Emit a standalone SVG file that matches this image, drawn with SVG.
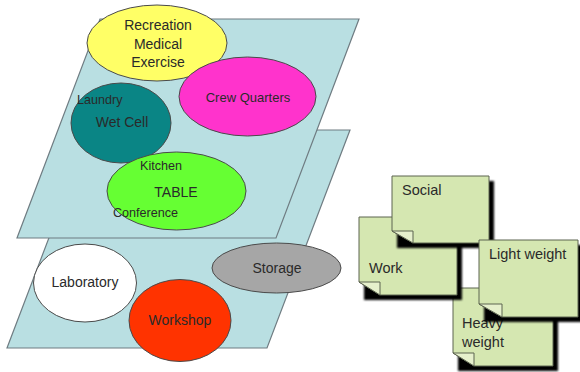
<svg xmlns="http://www.w3.org/2000/svg" width="580" height="372" viewBox="0 0 580 372">
  <defs>
    <filter id="shadowBlur" x="-10%" y="-10%" width="130%" height="130%">
      <feGaussianBlur stdDeviation="1.2"/>
    </filter>
    <style>
      .plane { fill: #b9dfe2; stroke: #6f7c82; stroke-width: 1.2; }
      .zone { stroke: #4a4a4a; stroke-width: 1; }
      .lbl { font-family: "Liberation Sans", Arial, sans-serif; font-size: 14px; fill: #2a2a2a; text-anchor: middle; }
      .sm { font-family: "Liberation Sans", Arial, sans-serif; font-size: 12.6px; fill: #2a2a2a; }
      .note { fill: #d5e7b1; stroke: #5d6450; stroke-width: 1; }
      .flap { fill: #e6f0cc; stroke: #5d6450; stroke-width: 1; }
      .shadow { fill: #000; filter: url(#shadowBlur); }
      .ntext { font-family: "Liberation Sans", Arial, sans-serif; font-size: 14.5px; fill: #2a2a2a; }
    </style>
  </defs>

  <rect width="580" height="372" fill="#ffffff"/>

  <!-- lower deck -->
  <g id="deck-lower">
    <polygon class="plane" points="90,130 350,130 267,348 7,348"/>
  </g>

  <!-- upper deck -->
  <g id="deck-upper">
    <polygon class="plane" points="100,19 359,19 276,238 17,238"/>
  </g>

  <g id="connectors"></g>

  <!-- upper deck zones -->
  <g id="recreation">
    <ellipse class="zone" cx="157" cy="43" rx="70" ry="38" fill="#ffff66"/>
    <text class="lbl" x="158" y="30">Recreation</text>
    <text class="lbl" x="158" y="48.5">Medical</text>
    <text class="lbl" x="158" y="67">Exercise</text>
  </g>
  <g id="crew-quarters">
    <ellipse class="zone" cx="247.5" cy="96.5" rx="68.5" ry="39.5" fill="#ff33cc"/>
    <text class="lbl" x="248" y="102" style="font-size:13px">Crew Quarters</text>
  </g>
  <g id="wet-cell">
    <ellipse class="zone" cx="121" cy="123" rx="50" ry="40" fill="#0a8585"/>
    <text class="sm" x="77" y="104">Laundry</text>
    <text class="lbl" x="122" y="127">Wet Cell</text>
  </g>
  <g id="table">
    <ellipse class="zone" cx="176.5" cy="191" rx="69.5" ry="39" fill="#66ff33"/>
    <text class="sm" x="140" y="170">Kitchen</text>
    <text class="lbl" x="176" y="197">TABLE</text>
    <text class="sm" x="113" y="217">Conference</text>
  </g>

  <!-- lower deck zones -->
  <g id="laboratory">
    <ellipse class="zone" cx="85" cy="283" rx="51.5" ry="39" fill="#ffffff"/>
    <text class="lbl" x="85" y="287">Laboratory</text>
  </g>
  <g id="storage">
    <ellipse class="zone" cx="276.5" cy="268" rx="64.5" ry="25" fill="#a6a6a6"/>
    <text class="lbl" x="277" y="273">Storage</text>
  </g>
  <g id="workshop">
    <ellipse class="zone" cx="180" cy="320.5" rx="51" ry="41" fill="#ff3300"/>
    <text class="lbl" x="180" y="325">Workshop</text>
  </g>

  <!-- sticky notes -->
  <g id="note-heavy">
    <rect class="shadow" x="458" y="293" width="100" height="78"/>
    <path class="note" d="M453,288 H553 V366 H474 L453,353 Z"/>
    <path class="flap" d="M453,353 L474,353 L474,366 Z"/>
    <text class="ntext" x="462" y="328">Heavy</text>
    <text class="ntext" x="462" y="347">weight</text>
  </g>
  <g id="note-work">
    <rect class="shadow" x="364" y="222" width="98" height="78"/>
    <path class="note" d="M359,217 H457 V295 H380 L359,282 Z"/>
    <path class="flap" d="M359,282 L380,282 L380,295 Z"/>
    <text class="ntext" x="369" y="273">Work</text>
  </g>
  <g id="note-social">
    <rect class="shadow" x="397" y="181" width="97" height="67"/>
    <path class="note" d="M392,176 H489 V243 H413 L392,231 Z"/>
    <path class="flap" d="M392,231 L413,231 L413,243 Z"/>
    <text class="ntext" x="402" y="195">Social</text>
  </g>
  <g id="note-light">
    <rect class="shadow" x="484" y="245" width="99" height="77"/>
    <path class="note" d="M479,240 H578 V317 H502 L479,304 Z"/>
    <path class="flap" d="M479,304 L502,304 L502,317 Z"/>
    <text class="ntext" x="489" y="259">Light weight</text>
  </g>
</svg>
